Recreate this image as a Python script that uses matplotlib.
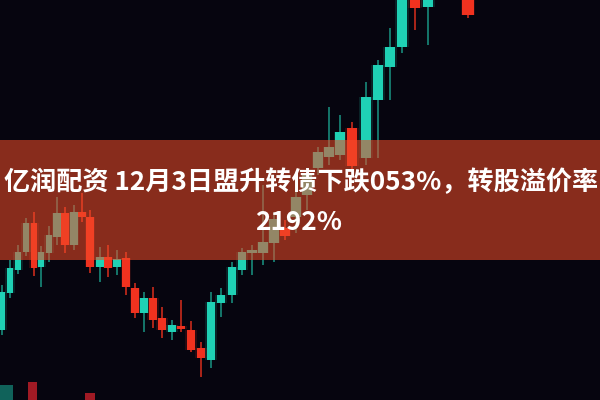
import matplotlib
matplotlib.use('Agg')
import matplotlib.pyplot as plt
import numpy as np

# candle positions (left to right) and prices
xs = [2, 10, 18, 26, 34, 41, 49, 57, 65, 74, 82, 90, 100, 108, 117, 126, 135, 144,
      153, 162, 172, 181, 191, 201, 211, 221, 232, 242, 252, 263, 274, 285, 296,
      307, 318, 329, 340, 352, 366, 378, 390, 402, 415, 428, 468]
opens = [70, 107, 130, 148, 177, 133, 147, 163, 187, 155, 188, 183, 133, 143, 133,
         142, 112, 87, 102, 82, 68, 74, 70, 52, 40, 97, 105, 130, 147, 147, 157,
         172, 183, 205, 232, 243, 245, 272, 242, 300, 333, 353, 410, 393, 410]
closes = [108, 132, 148, 177, 132, 148, 165, 187, 155, 188, 183, 133, 143, 132, 141,
          113, 87, 102, 80, 70, 75, 71, 50, 42, 98, 105, 133, 148, 150, 158, 181,
          164, 203, 225, 248, 253, 268, 234, 303, 335, 353, 405, 392, 410, 385]
highs = [115, 140, 155, 182, 188, 154, 174, 203, 193, 195, 207, 190, 153, 155, 150,
         148, 117, 108, 113, 93, 80, 100, 79, 58, 108, 112, 138, 152, 155, 215, 188,
         180, 210, 232, 253, 293, 285, 278, 318, 340, 372, 410, 415, 415, 415]
lows = [65, 102, 126, 144, 124, 113, 138, 155, 147, 150, 178, 127, 118, 123, 125,
        105, 82, 68, 72, 62, 60, 68, 48, 23, 32, 83, 97, 125, 125, 135, 138, 160,
        167, 190, 225, 235, 240, 230, 235, 242, 300, 347, 370, 355, 382]

# out-of-focus candles at the bottom edge
blur_xs = [6, 32, 90]
blur_opens = [-5, 18, 7]
blur_closes = [15, -5, -5]

title_line1 = '亿润配资 12月3日盟升转债下跌053%，转股溢价率'
title_line2 = '2192%'

bg = '#06050f'
teal = '#1fd1b5'
teal_wick = '#178a7b'
red = '#f0321f'
red_wick = '#c92b1c'

fig = plt.figure(figsize=(6, 4), dpi=100, facecolor=bg)
ax = fig.add_axes([0, 0, 1, 1])
ax.set_facecolor(bg)
ax.set_xlim(0, 600)
ax.set_ylim(0, 400)
ax.axis('off')

xs_a = np.array(xs, dtype=float)
o = np.array(opens, dtype=float)
c = np.array(closes, dtype=float)
up = c >= o
widths = 6.5 + 0.01 * xs_a
body_cols = np.where(up, teal, red)
wick_cols = np.where(up, teal_wick, red_wick)

# wicks
ax.vlines(xs_a, lows, highs, colors=wick_cols, linewidth=1.2, zorder=2)
# soft glow then bodies
ax.bar(xs_a, c - o, bottom=o, width=widths + 3, color=body_cols, alpha=0.15,
       linewidth=0, zorder=2)
ax.bar(xs_a, c - o, bottom=o, width=widths, color=body_cols, linewidth=0, zorder=3)

# blurred foreground candles
bo = np.array(blur_opens, dtype=float)
bc = np.array(blur_closes, dtype=float)
bcols = np.where(bc >= bo, '#137a6e', '#c8202a')
ax.bar(blur_xs, bc - bo, bottom=bo, width=[13, 9, 10], color=bcols, alpha=0.8,
       linewidth=0, zorder=2)

# title banner
ax.axhspan(140, 260, color='#f04c28', alpha=0.56, linewidth=0, zorder=5)
fam = ['Noto Sans CJK SC', 'DejaVu Sans']
ax.text(301, 217, title_line1, ha='center', va='center', fontsize=18.8,
        fontweight='bold', color='white', family=fam, zorder=6)
ax.text(299, 178, title_line2, ha='center', va='center', fontsize=18.8,
        fontweight='bold', color='white', family=fam, zorder=6)

fig.savefig('out.png', dpi=100, facecolor=bg)
